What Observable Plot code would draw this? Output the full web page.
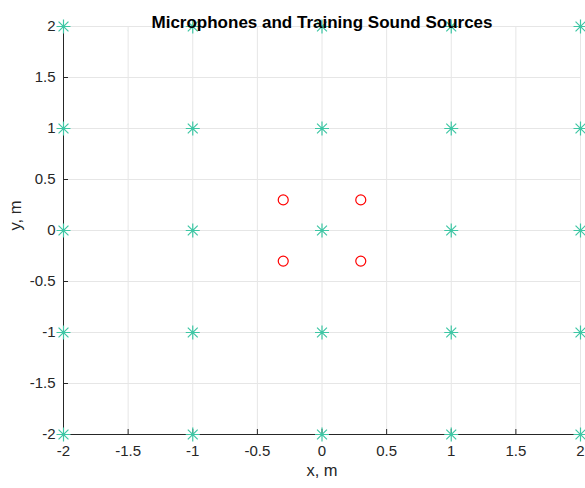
<!DOCTYPE html>
<html>
<head>
<meta charset="utf-8">
<script src="https://cdn.jsdelivr.net/npm/d3@7"></script>
<script src="https://cdn.jsdelivr.net/npm/@observablehq/plot@0.6"></script>
<style>
  html, body { margin: 0; padding: 0; background: #fff; }
</style>
</head>
<body>
<div id="chart"></div>
<script>
// Training sound source positions (metres)
const sourceX = [-2, -2, -2, -2, -2, -1, -1, -1, -1, -1, 0, 0, 0, 0, 0, 1, 1, 1, 1, 1, 2, 2, 2, 2, 2];
const sourceY = [2, 1, 0, -1, -2, 2, 1, 0, -1, -2, 2, 1, 0, -1, -2, 2, 1, 0, -1, -2, 2, 1, 0, -1, -2];
// Microphone positions (metres)
const micX = [-0.3, 0.3, -0.3, 0.3];
const micY = [0.3, 0.3, -0.3, -0.3];
// Axis ticks
const xTicks = [-2, -1.5, -1, -0.5, 0, 0.5, 1, 1.5, 2];
const yTicks = [-2, -1.5, -1, -0.5, 0, 0.5, 1, 1.5, 2];

const titleText = "Microphones and Training Sound Sources";
const xLabel = "x, m";
const yLabel = "y, m";

const sources = sourceX.map((x, i) => ({x, y: sourceY[i]}));
const mics = micX.map((x, i) => ({x, y: micY[i]}));

// Eight-spoke star marker
const star = {
  draw(context, size) {
    const r = Math.sqrt(size / Math.PI);
    const d = r * Math.SQRT1_2;
    context.moveTo(-r, 0); context.lineTo(r, 0);
    context.moveTo(0, -r); context.lineTo(0, r);
    context.moveTo(-d, -d); context.lineTo(d, d);
    context.moveTo(-d, d); context.lineTo(d, -d);
  }
};

const axisColor = "#262626";
const fmt = d => String(d);

const chart = Plot.plot({
  width: 585,
  height: 488,
  marginLeft: 63,
  marginRight: 5,
  marginTop: 26,
  marginBottom: 54,
  style: {fontFamily: "'Liberation Sans', Arial, sans-serif", fontSize: "15px", color: axisColor, background: "#fff", overflow: "visible"},
  x: {domain: [-2, 2]},
  y: {domain: [-2, 2]},
  marks: [
    Plot.gridX(xTicks, {stroke: "#e6e6e6", strokeOpacity: 1, strokeWidth: 1}),
    Plot.gridY(yTicks, {stroke: "#e6e6e6", strokeOpacity: 1, strokeWidth: 1}),
    Plot.axisX(xTicks, {tickSize: -5, tickPadding: 16, tickFormat: fmt, label: null, stroke: axisColor, fill: axisColor}),
    Plot.axisY(yTicks, {tickSize: -5, tickPadding: 13, tickFormat: fmt, label: null, stroke: axisColor, fill: axisColor}),
    Plot.ruleY([-2], {stroke: axisColor, strokeWidth: 1}),
    Plot.ruleX([-2], {stroke: axisColor, strokeWidth: 1}),
    Plot.dot(sources, {x: "x", y: "y", symbol: star, r: 7, stroke: "#3ec6a4", strokeWidth: 1.2}),
    Plot.dot(mics, {x: "x", y: "y", symbol: "circle", r: 5, stroke: "#ff0000", fill: "none", strokeWidth: 1.2}),
    Plot.text([titleText], {text: d => d, frameAnchor: "top", dy: -11, fontWeight: "bold", fontSize: 17, fill: "#000"}),
    Plot.text([xLabel], {text: d => d, frameAnchor: "bottom", dy: 41, fontSize: 16.5, fill: axisColor}),
    Plot.text([yLabel], {text: d => d, frameAnchor: "left", dx: -48, rotate: -90, fontSize: 16.5, fill: axisColor})
  ]
});

document.getElementById("chart").appendChild(chart);
</script>
</body>
</html>
